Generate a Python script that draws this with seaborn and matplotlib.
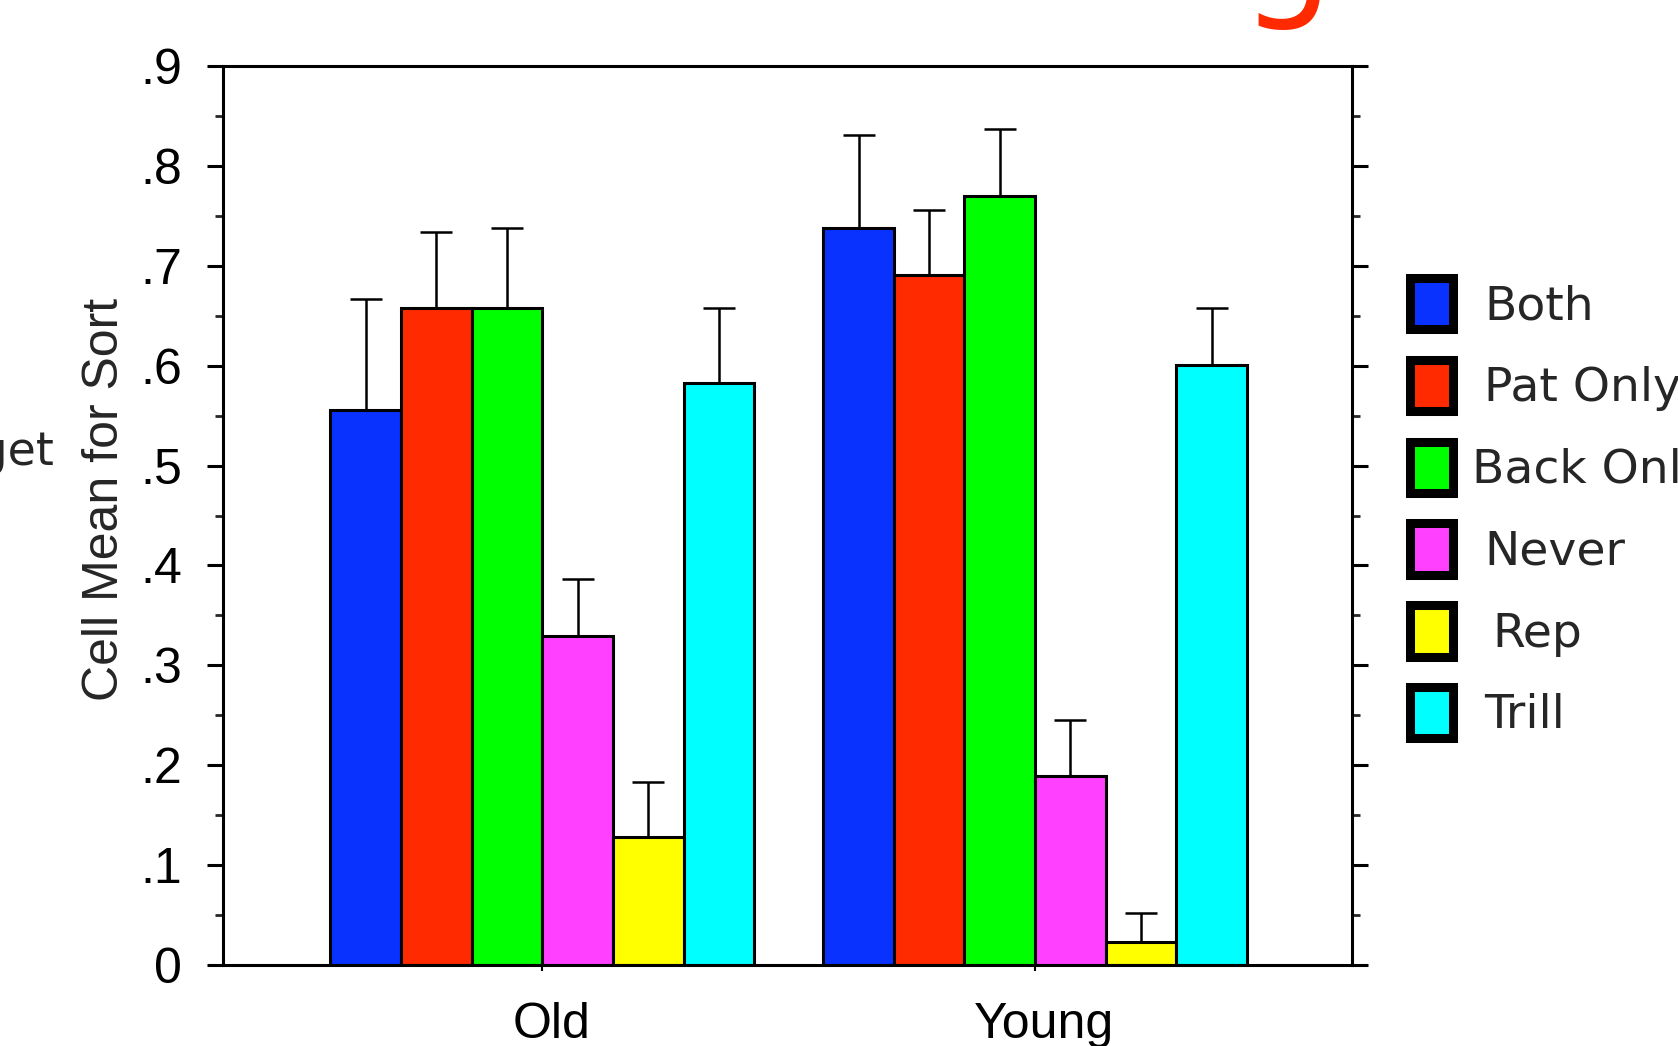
import matplotlib
matplotlib.use("Agg")
import matplotlib.pyplot as plt
import matplotlib.transforms as mtransforms
import seaborn as sns
import pandas as pd
from matplotlib.patches import Patch
from matplotlib.ticker import MultipleLocator

# ---------------- data ----------------
groups = ["Old", "Young"]
conditions = ["Both", "Pat Only", "Back Only", "Never", "Rep", "Trill"]
old_means = [0.556, 0.658, 0.658, 0.329, 0.128, 0.583]
old_errs = [0.111, 0.076, 0.080, 0.057, 0.055, 0.075]
young_means = [0.738, 0.691, 0.770, 0.189, 0.023, 0.601]
young_errs = [0.093, 0.065, 0.067, 0.056, 0.029, 0.057]
colors = ["#0A32FF", "#FF2A00", "#00FF00", "#FF40FF", "#FFFF00", "#00FFFF"]
ytick_vals = [0.0, 0.1, 0.2, 0.3, 0.4, 0.5, 0.6, 0.7, 0.8, 0.9]
ytick_labels = ["0", ".1", ".2", ".3", ".4", ".5", ".6", ".7", ".8", ".9"]
ylabel = "Cell Mean for Sort"
side_text = "Target"
title_fragment = "g"

rows = []
for g, means, errs in [(groups[0], old_means, old_errs), (groups[1], young_means, young_errs)]:
    for c, m, e in zip(conditions, means, errs):
        rows.append({"group": g, "condition": c, "mean": m, "err": e})
df = pd.DataFrame(rows)

# ---------------- style ----------------
sns.set_theme(style="ticks")
plt.rcParams["font.family"] = ["Liberation Sans", "DejaVu Sans"]

W, H, DPI = 1678, 1046, 100
fig = plt.figure(figsize=(W / DPI, H / DPI), dpi=DPI)
fig.patch.set_facecolor("white")

left, right, top, bottom = 223, 1352, 66, 965
ax = fig.add_axes([left / W, 1 - bottom / H, (right - left) / W, (bottom - top) / H])
ax.set_facecolor("white")

sns.barplot(data=df, x="group", y="mean", hue="condition", order=groups,
            hue_order=conditions, palette=colors, saturation=1, width=0.86,
            gap=0, edgecolor="black", linewidth=2.2, errorbar=None,
            legend=False, ax=ax)

# upward-only error bars from the drawn bars
for cont, cond in zip(ax.containers, conditions):
    sub = df[df["condition"] == cond].set_index("group").loc[groups]
    xs = [b.get_x() + b.get_width() / 2 for b in cont]
    ax.errorbar(xs, sub["mean"].values,
                yerr=[[0] * len(xs), sub["err"].values],
                fmt="none", ecolor="black", elinewidth=1.8,
                capsize=11.5, capthick=1.8, zorder=5)

ax.set_xlim(-0.648, 1.643)
ax.set_ylim(0, 0.9)
ax.set_yticks(ytick_vals, ytick_labels)
ax.yaxis.set_minor_locator(MultipleLocator(0.05))
ax.set_xlabel("")
ax.set_ylabel("")

for s in ax.spines.values():
    s.set_linewidth(2.2)
    s.set_color("black")
    s.set_visible(True)

ax.tick_params(axis="y", which="major", direction="out", length=11.5, width=2.2,
               left=True, right=True, labelsize=36, pad=18, colors="black")
ax.tick_params(axis="y", which="minor", direction="out", length=5.8, width=2.0,
               left=True, right=True)
ax.tick_params(axis="x", which="major", direction="out", length=4, width=1.5,
               bottom=True, top=False, labelsize=36, pad=23, colors="black")

offset = mtransforms.ScaledTranslation(9 / DPI, 0, fig.dpi_scale_trans)
for lab in ax.get_xticklabels():
    lab.set_transform(lab.get_transform() + offset)

# legend
handles = [Patch(facecolor=c, edgecolor="black", linewidth=6.5) for c in colors]
leg = fig.legend(handles, conditions, loc="upper left",
                 bbox_to_anchor=(1410 / W, 1 - 278 / H),
                 frameon=False, prop={"family": "DejaVu Sans", "size": 34},
                 handlelength=0.92, handleheight=1.3, handletextpad=0.65,
                 labelspacing=0.64, borderpad=0, borderaxespad=0)
label_dx = [0, 0, -12, 0, 8, 0]
for t, dx in zip(leg.get_texts(), label_dx):
    t.set_transform(t.get_transform() +
                    mtransforms.ScaledTranslation(dx / DPI, 0, fig.dpi_scale_trans))

# y label and cropped slide texts
fig.text(105 / W, 1 - 499 / H, ylabel, rotation=90, ha="center", va="center",
         fontsize=36, family="Liberation Sans")
fig.text(54 / W, 1 - 465 / H, side_text, ha="right", va="baseline",
         fontsize=33, family="DejaVu Sans")
fig.text(1287 / W, 1 - 0 / H, title_fragment, ha="center", va="baseline",
         fontsize=105, color="#FF2A00", family="DejaVu Sans")

fig.savefig("out.png", dpi=DPI)
